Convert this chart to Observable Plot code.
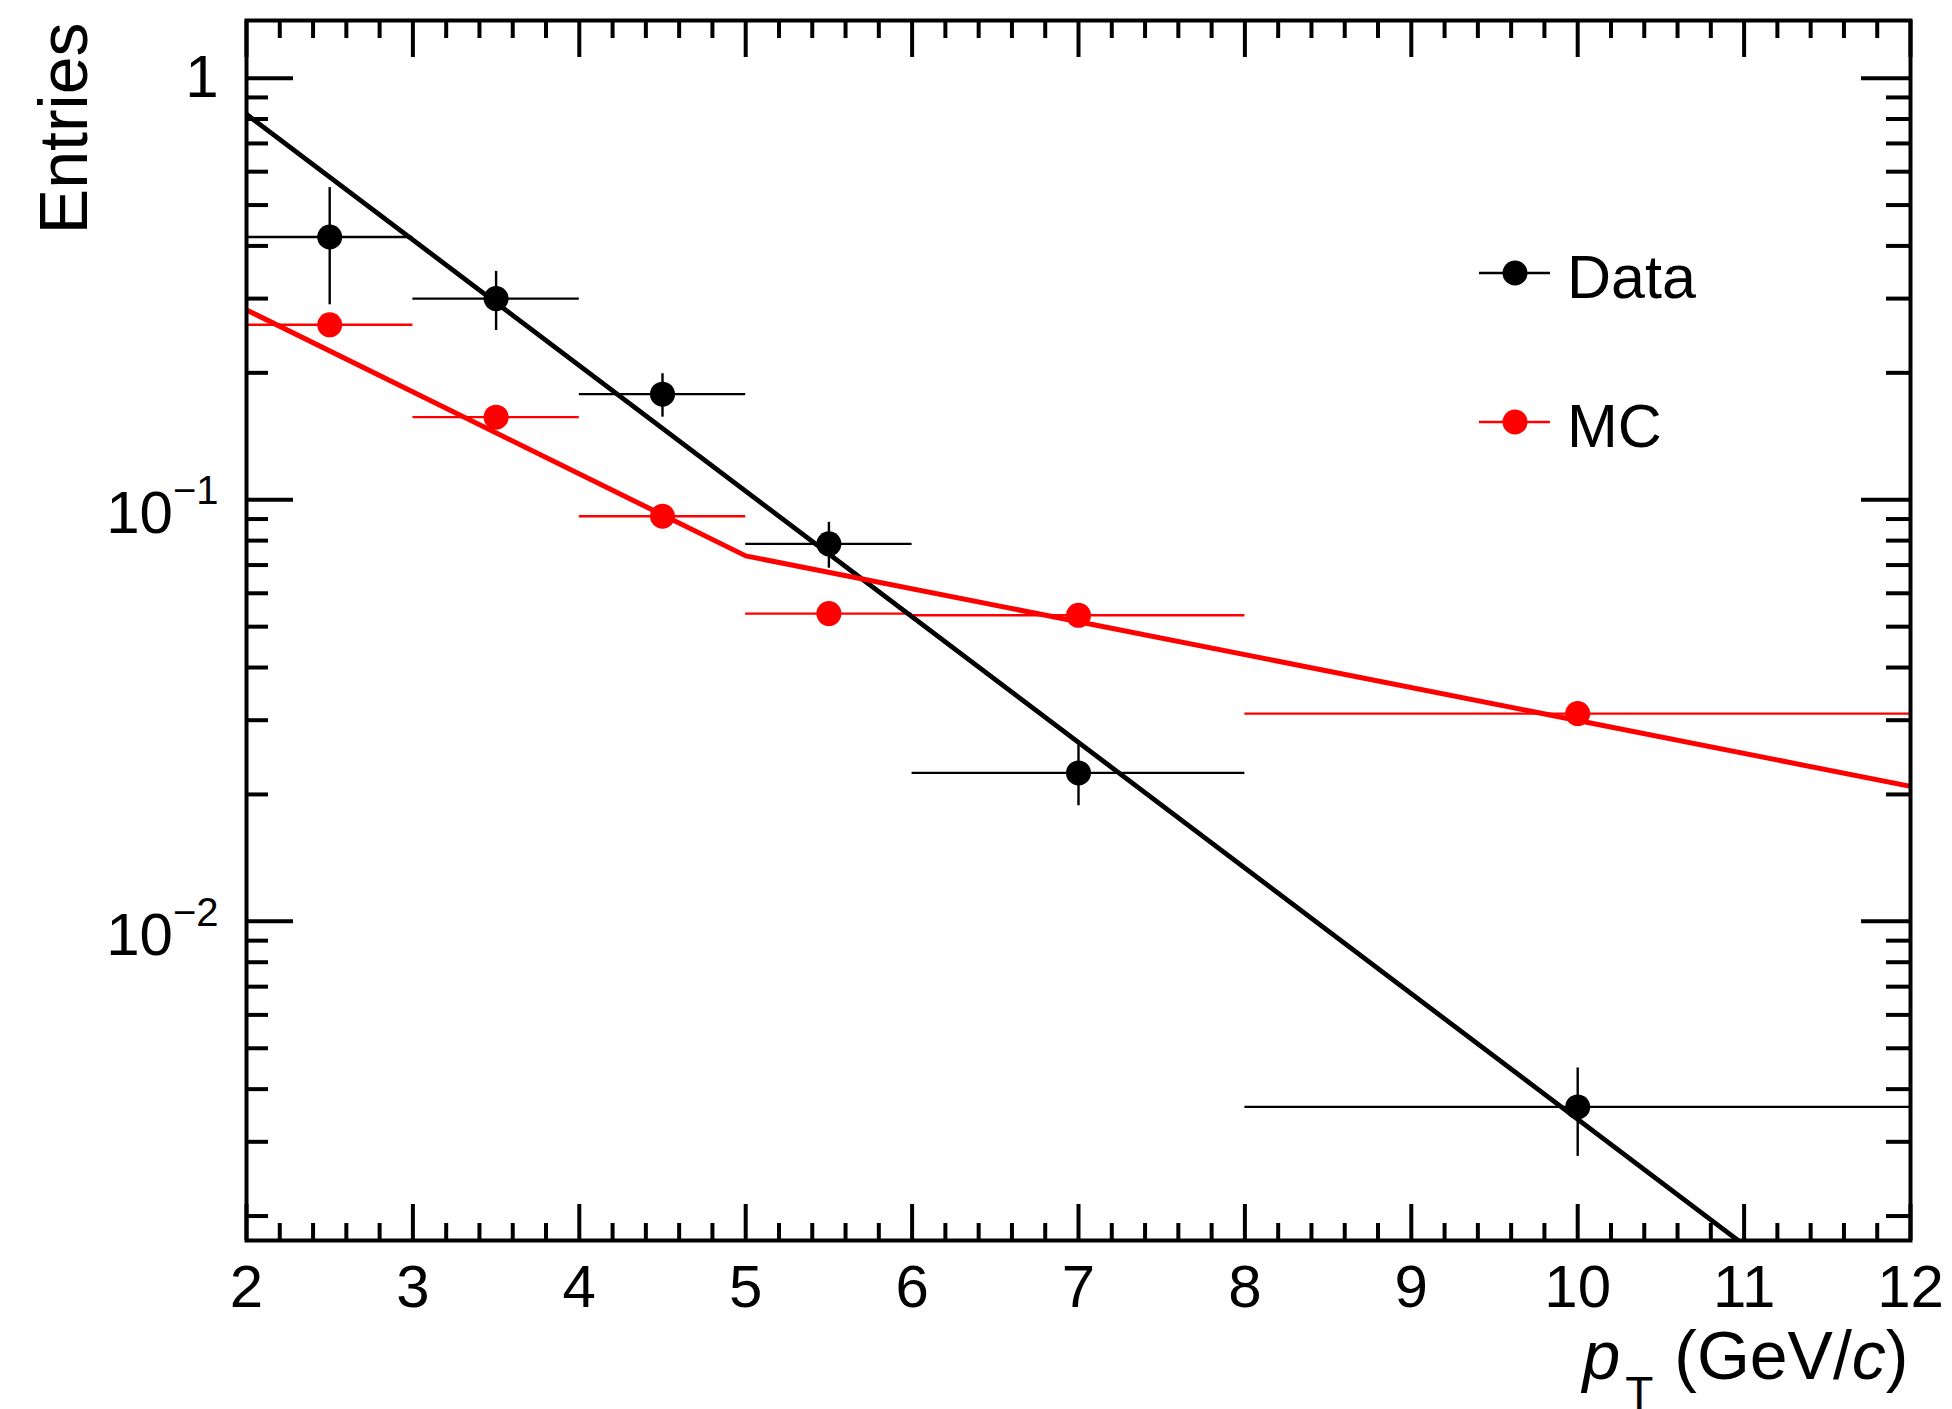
<!DOCTYPE html>
<html>
<head>
<meta charset="utf-8">
<script src="https://cdn.jsdelivr.net/npm/d3@7"></script>
<script src="https://cdn.jsdelivr.net/npm/@observablehq/plot@0.6"></script>
<style>
  html, body { margin: 0; padding: 0; background: #ffffff; }
  #chart { position: relative; width: 1952px; height: 1409px; overflow: hidden; }
  #chart svg { font-family: "Liberation Sans", Arial, Helvetica, sans-serif; }
</style>
</head>
<body>
<div id="chart"></div>
<script>
// ---------- data ----------
const binLo      = [2, 3, 4, 5, 6, 8];
const binHi      = [3, 4, 5, 6, 8, 12];
const binCenter  = [2.5, 3.5, 4.5, 5.5, 7, 10];
const dataValues = [0.42, 0.30, 0.178, 0.0786, 0.0225, 0.00363];
const dataErrors = [0.13, 0.048, 0.021, 0.0098, 0.0037, 0.00086];
const mcValues   = [0.26, 0.157, 0.0914, 0.0537, 0.0532, 0.0311];

// fitted curves (end points; straight on log axis)
const dataFitX = [2, 12];
const dataFitY = [0.821, 0.00086];
const mcFitX   = [2, 5, 12];
const mcFitY   = [0.282, 0.0736, 0.0209];

const seriesNames  = ["Data", "MC"];
const seriesColors = ["#000000", "#ff0000"];

const xMajorTicks = [2, 3, 4, 5, 6, 7, 8, 9, 10, 11, 12];
const yMajorTicks = [0.01, 0.1, 1];
const yTickLabels = ["10^-2", "10^-1", "1"];
const xTitle = "p_T (GeV/c)";
const yTitle = "Entries";

// ---------- derived tables ----------
const xMinorTicks = [];
for (let i = 0; i < xMajorTicks.length - 1; i++)
  for (let k = 1; k < 5; k++) xMinorTicks.push(xMajorTicks[i] + k / 5);
const yDomain = [0.00175, 1.37];
const yMinorTicks = [];
for (const dec of [1000, 100, 10])
  for (let m = 2; m <= 9; m++) { const v = m / dec; if (v >= yDomain[0] && v <= yDomain[1]) yMinorTicks.push(v); }

const dataRows = binCenter.map((x, i) => ({x, lo: binLo[i], hi: binHi[i], v: dataValues[i], e: dataErrors[i]}));
const mcRows   = binCenter.map((x, i) => ({x, lo: binLo[i], hi: binHi[i], v: mcValues[i]}));
const dataFit  = dataFitX.map((x, i) => ({x, y: dataFitY[i]}));
const mcFit    = mcFitX.map((x, i) => ({x, y: mcFitY[i]}));

// ---------- layout ----------
const W = 1952, H = 1409;
const mL = 246, mR = 42, mT = 20, mB = 169;
const frameW = W - mL - mR, frameH = H - mT - mB;
const black = seriesColors[0], red = seriesColors[1];

const plot = Plot.plot({
  width: W, height: H,
  marginLeft: mL, marginRight: mR, marginTop: mT, marginBottom: mB,
  style: {fontFamily: "'Liberation Sans', Arial, Helvetica, sans-serif", background: "#ffffff", color: "#000000", overflow: "visible"},
  x: {type: "linear", domain: [2, 12], label: null},
  y: {type: "log", domain: yDomain, label: null},
  marks: [
    // error bars
    Plot.ruleY(dataRows, {y: "v", x1: "lo", x2: "hi", stroke: black, strokeWidth: 2.4}),
    Plot.ruleX(dataRows, {x: "x", y1: d => d.v - d.e, y2: d => d.v + d.e, stroke: black, strokeWidth: 2.4}),
    Plot.ruleY(mcRows, {y: "v", x1: "lo", x2: "hi", stroke: red, strokeWidth: 2.4}),
    // fits
    Plot.line(dataFit, {x: "x", y: "y", stroke: black, strokeWidth: 4.8, clip: true}),
    Plot.line(mcFit, {x: "x", y: "y", stroke: red, strokeWidth: 5, clip: true}),
    // markers
    Plot.dot(dataRows, {x: "x", y: "v", r: 12.5, fill: black, stroke: "none"}),
    Plot.dot(mcRows, {x: "x", y: "v", r: 12.5, fill: red, stroke: "none"}),
    // ticks (inward, on all four sides)
    Plot.tickY(yMajorTicks, {y: d => d, insetRight: frameW - 47, stroke: black, strokeWidth: 4}),
    Plot.tickY(yMajorTicks, {y: d => d, insetLeft: frameW - 49, stroke: black, strokeWidth: 4}),
    Plot.tickY(yMinorTicks, {y: d => d, insetRight: frameW - 22, stroke: black, strokeWidth: 4}),
    Plot.tickY(yMinorTicks, {y: d => d, insetLeft: frameW - 24, stroke: black, strokeWidth: 4}),
    Plot.tickX(xMajorTicks, {x: d => d, insetTop: frameH - 36, stroke: black, strokeWidth: 4}),
    Plot.tickX(xMajorTicks, {x: d => d, insetBottom: frameH - 37, stroke: black, strokeWidth: 4}),
    Plot.tickX(xMinorTicks, {x: d => d, insetTop: frameH - 17, stroke: black, strokeWidth: 4}),
    Plot.tickX(xMinorTicks, {x: d => d, insetBottom: frameH - 18, stroke: black, strokeWidth: 4}),
    Plot.frame({stroke: black, strokeWidth: 4}),
    // tick labels
    Plot.axisX(xMajorTicks, {tickSize: 0, tickPadding: 24, fontSize: 60, tickFormat: d => String(d), label: null}),
    Plot.axisY(yMajorTicks, {tickSize: 0, tickPadding: 28, fontSize: 60, tickFormat: d => yTickLabels[yMajorTicks.indexOf(d)], label: null}),
    // axis titles
    Plot.text([yTitle], {text: d => d, frameAnchor: "top-left", rotate: -90, textAnchor: "end", lineAnchor: "bottom", dx: -160, dy: 2, fontSize: 68, fill: black}),
    Plot.text([xTitle], {text: d => d, frameAnchor: "bottom-right", textAnchor: "end", lineAnchor: "bottom", dx: -2, dy: 138, fontSize: 68, fill: black})
  ]
});

document.getElementById("chart").appendChild(plot);

// ---------- typographic post-processing ----------
const svg = d3.select(plot);
const NS = "http://www.w3.org/2000/svg";
svg.selectAll("text").each(function () {
  const t = this.textContent;
  const m = t.match(/^10\^(.+)$/);
  if (m) {
    this.textContent = "";
    const base = document.createElementNS(NS, "tspan");
    base.setAttribute("dy", "14");
    base.textContent = "10";
    const sup = document.createElementNS(NS, "tspan");
    sup.setAttribute("dy", "-29");
    sup.setAttribute("font-size", "40");
    sup.textContent = m[1].replace("-", "\u2212");
    this.appendChild(base); this.appendChild(sup);
  } else if (t === xTitle) {
    this.textContent = "";
    const parts = [
      {s: "p", italic: true},
      {s: "T", size: 46, dy: 30, dx: 5},
      {s: " (GeV/", dy: -30, dx: 2},
      {s: "c", italic: true},
      {s: ")"}
    ];
    for (const p of parts) {
      const ts = document.createElementNS(NS, "tspan");
      if (p.italic) ts.setAttribute("font-style", "italic");
      if (p.size) ts.setAttribute("font-size", p.size);
      if (p.dy) ts.setAttribute("dy", p.dy);
      if (p.dx) ts.setAttribute("dx", p.dx);
      ts.textContent = p.s;
      this.appendChild(ts);
    }
  }
});

// ---------- legend ----------
const legend = svg.append("g").attr("aria-label", "legend");
seriesNames.forEach((name, i) => {
  const cy = 273 + i * 149;
  const g = legend.append("g");
  g.append("line").attr("x1", 1479).attr("x2", 1550).attr("y1", cy).attr("y2", cy)
    .attr("stroke", seriesColors[i]).attr("stroke-width", 2.4);
  g.append("circle").attr("cx", 1515).attr("cy", cy).attr("r", 12.5).attr("fill", seriesColors[i]);
  g.append("text").attr("x", 1567).attr("y", cy + 25).attr("font-size", 61)
    .attr("text-anchor", "start").attr("fill", "#000000").text(name);
});
</script>
</body>
</html>
